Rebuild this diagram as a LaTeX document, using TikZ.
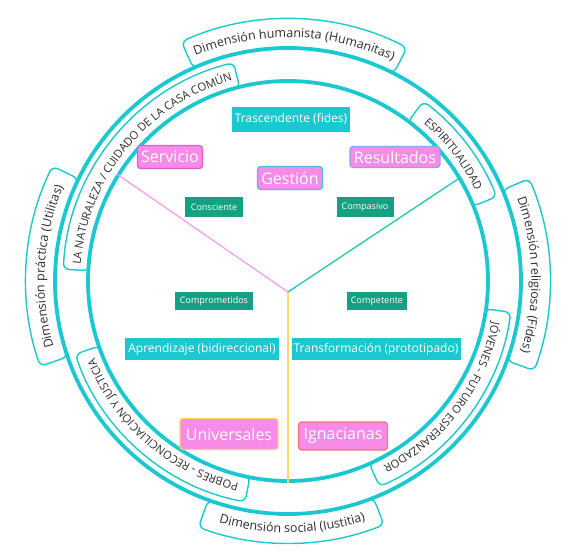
\documentclass[tikz,border=0pt]{standalone}
\usepackage{fontspec}
\setmainfont{Open Sans}
\usetikzlibrary{decorations.text}
\definecolor{cy}{RGB}{27,200,208}
\definecolor{pk}{RGB}{246,140,232}
\definecolor{gr}{RGB}{20,160,130}
\definecolor{pkline}{RGB}{245,160,240}
\definecolor{tlline}{RGB}{30,200,170}
\definecolor{ylline}{RGB}{255,215,100}
\definecolor{txt}{RGB}{45,45,45}
\definecolor{bmag}{RGB}{225,90,205}
\definecolor{bblue}{RGB}{130,170,240}
\definecolor{bcyan}{RGB}{70,190,230}
\definecolor{byel}{RGB}{255,215,90}
\definecolor{bred}{RGB}{240,120,120}
\tikzset{
  ringframe/.style={draw=cy,line width=1.4pt,fill=white,rounded corners=6pt},
  bigring/.style={circle,draw=cy,line width=3.8pt,inner sep=0pt},
  cybox/.style={fill=cy,text=white,font=\fontsize{12}{14}\selectfont,inner sep=0pt},
  pkbox/.style={fill=pk,text=white,font=\fontsize{16}{18}\selectfont,rounded corners=3pt,line width=1.2pt,inner sep=0pt},
  grbox/.style={fill=gr,text=white,font=\fontsize{9}{11}\selectfont,inner sep=0pt},
  yline/.style={line width=1.3pt}
}
\newcommand\ringbox[4]{%
  \draw[ringframe] (#1:#3) arc[start angle=#1,end angle=#2,radius=#3] -- (#2:#4) arc[start angle=#2,end angle=#1,radius=#4] -- cycle;}
\newcommand\ringtext[4]{%
  \path[decorate,decoration={text along path,text align=center,text={#4}}] (#1:#3) arc[start angle=#1,end angle=#2,radius=#3];}
\begin{document}
\begin{tikzpicture}[x=1pt,y=1pt]
\useasboundingbox[fill=white] (-288,-277) rectangle (292,281);
% Y connectors
\coordinate (yc) at (0,-11);
% ring label frames
\ringbox{104}{177}{199}{225}
\ringbox{22}{53}{199}{225}
\ringbox{-66}{-8}{199}{225}
\ringbox{-161}{-101}{199}{225}
\ringbox{63}{114}{233}{262}
\ringbox{154}{199}{233}{262}
\ringbox{-20}{23}{233}{262}
\ringbox{-110}{-68.5}{233}{262}
% circles
\node[bigring,minimum size=466pt] (outer) at (0,0) {};
\node[bigring,minimum size=400pt] (inner) at (0,0) {};
\draw[yline,pkline] (yc) -- (inner.148);
\draw[yline,tlline] (yc) -- (inner.31);
\draw[yline,ylline] (yc) -- (inner.-90);
% ring texts
\ringtext{148.5}{28.5}{243.5}{|\fontsize{12.5}{15}\selectfont\color{txt}|Dimensión humanista (Humanitas)}
\ringtext{236.5}{116.5}{243.5}{|\fontsize{12.5}{15}\selectfont\color{txt}|Dimensión práctica (Utilitas)}
\ringtext{61.5}{-58.5}{243.5}{|\fontsize{12.5}{15}\selectfont\color{txt}|Dimensión religiosa (Fides)}
\ringtext{-149}{-29}{251.5}{|\fontsize{12.5}{15}\selectfont\color{txt}|Dimensión social (Iustitia)}
\ringtext{200.5}{80.5}{208}{|\fontsize{11.2}{13}\selectfont\color{txt}|LA NATURALEZA / CUIDADO DE LA CASA COMÚN}
\ringtext{97.5}{-22.5}{208}{|\fontsize{11.2}{13}\selectfont\color{txt}|ESPIRITUALIDAD}
\ringtext{23}{-97}{208}{|\fontsize{11.2}{13}\selectfont\color{txt}|JÓVENES - FUTURO ESPERANZADOR}
\ringtext{-71}{-191}{208}{|\fontsize{11.2}{13}\selectfont\color{txt}|POBRES - RECONCILIACIÓN Y JUSTICIA}
% central boxes
\node[cybox,minimum width=118pt,minimum height=25pt] (tras) at (3,162) {Trascendente (fides)};
\node[pkbox,draw=bmag,minimum width=65pt,minimum height=23pt] (serv) at (-118,124) {Servicio};
\node[pkbox,draw=bblue,minimum width=90pt,minimum height=21pt] (res) at (107,124) {Resultados};
\node[pkbox,draw=bcyan,minimum width=65pt,minimum height=23pt] (ges) at (2,103) {Gestión};
\node[grbox,minimum width=57pt,minimum height=20pt] (cons) at (-74,74) {Consciente};
\node[grbox,minimum width=57pt,minimum height=20pt] (comp) at (77,74) {Compasivo};
\node[grbox,minimum width=78pt,minimum height=18pt] (compr) at (-74,-20) {Comprometidos};
\node[grbox,minimum width=60pt,minimum height=18pt] (compe) at (89,-20) {Competente};
\node[cybox,minimum width=153pt,minimum height=22pt] (apr) at (-86,-68) {Aprendizaje (bidireccional)};
\node[cybox,minimum width=169pt,minimum height=22pt] (trans) at (88,-68) {Transformación (prototipado)};
\node[pkbox,draw=byel,minimum width=98pt,minimum height=31pt] (univ) at (-59,-153) {Universales};
\node[pkbox,draw=bred,minimum width=89pt,minimum height=28pt] (igna) at (55,-155) {Ignacianas};
\end{tikzpicture}
\end{document}
